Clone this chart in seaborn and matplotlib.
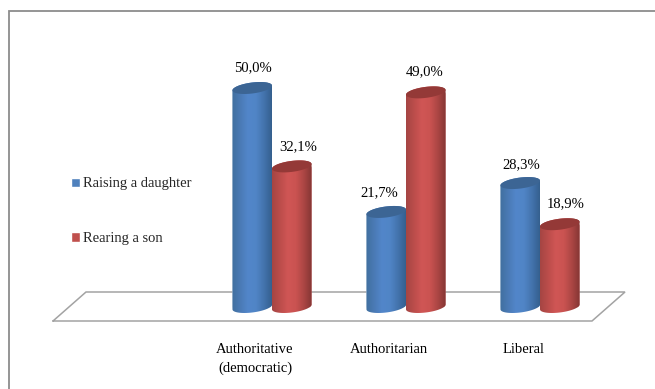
import numpy as np
import pandas as pd
import seaborn as sns
import matplotlib
matplotlib.use("Agg")
import matplotlib.pyplot as plt
from matplotlib.colors import LinearSegmentedColormap
from matplotlib.lines import Line2D
from matplotlib.patches import PathPatch
from matplotlib.path import Path
from matplotlib.transforms import ScaledTranslation

# Parenting style shares by child's gender
styles = ["Authoritative\n(democratic)", "Authoritarian", "Liberal"]
raising_daughter = [50.0, 21.7, 28.3]
rearing_son = [32.1, 49.0, 18.9]
series_names = ["Raising a daughter", "Rearing a son"]

W, H = 655, 389
FLOOR_FRONT = 321      # pixel row of the axes bottom
BASE_ROW = 307         # pixel row of the zero level
PX_PER_PCT = 4.38
FIRST_GROUP = 272
GROUP_STEP = 134
FONT = 10.5

sns.set_style("white")
plt.rcParams["font.family"] = ["Liberation Serif", "DejaVu Serif"]

fig = plt.figure(figsize=(W / 100, H / 100), dpi=100, facecolor="white")
ax = fig.add_axes([0, 1 - FLOOR_FRONT / H, 1, FLOOR_FRONT / H])

df = pd.DataFrame({
    "style": styles * 2,
    "share": raising_daughter + rearing_son,
    "series": [series_names[0]] * 3 + [series_names[1]] * 3,
})
palette = {series_names[0]: "#4F81BD", series_names[1]: "#C0504D"}
sns.barplot(data=df, x="style", y="share", hue="series", palette=palette,
            width=0.59, gap=0, saturation=1, ax=ax, zorder=3)

ax.set_xlabel("")
ax.set_ylabel("")
ax.set_yticks([])
sns.despine(ax=ax, left=True, bottom=True)
ax.patch.set_alpha(0)

# Category labels sit slightly left of their groups, as in a 3-D projection
ax.tick_params(axis="x", length=0, pad=16, labelsize=FONT, colors="black")
label_shift_px = [-17, -17, -16]
for lab, dx in zip(ax.get_xticklabels(), label_shift_px):
    lab.set_linespacing(1.5)
    lab.set_transform(lab.get_transform() + ScaledTranslation(dx / 100, 0, fig.dpi_scale_trans))

# Cylinder shading for each bar
ramps = {
    0: (["#41709F", "#4A7AB5", "#5286CA", "#5085C6", "#4474AE", "#35608F"], "#3C6594"),
    1: (["#A54543", "#BC4D4B", "#D05655", "#CA5351", "#AC4644", "#853634"], "#943937"),
}
half_h = 5.5 / PX_PER_PCT
shear = 0.12 * (GROUP_STEP / PX_PER_PCT)   # percent per category unit
theta_lower = np.linspace(np.pi, 2 * np.pi, 40)
theta_upper = np.linspace(0, np.pi, 40)
theta_full = np.linspace(0, 2 * np.pi, 80)


def ring(cx, level, a, theta):
    c, s = np.cos(theta), np.sin(theta)
    return np.column_stack([cx + a * c, level + half_h * s + shear * a * c])


top_to_label = [(1, 20), (-7, 19), (1, 18), (6, 20), (-1, 21), (6, 21)]
order = 0
for s_idx, container in enumerate(ax.containers):
    cmap = LinearSegmentedColormap.from_list(f"cyl{s_idx}", ramps[s_idx][0])
    cap_color = ramps[s_idx][1]
    for patch in container.patches:
        a = patch.get_width() / 2
        cx = patch.get_x() + a
        value = patch.get_height()
        z = 3 + order * 0.1

        # Body outline: lower half of the base, then back over the upper half of the top
        lower = ring(cx, 0, a, theta_lower)
        upper = ring(cx, value, a, theta_upper)
        pts = np.vstack([lower, upper, lower[:1]])
        body = PathPatch(Path(pts), transform=ax.transData, facecolor="none",
                         edgecolor="none", zorder=z)
        ax.add_patch(body)
        patch.set_clip_path(body)

        ymin, ymax = pts[:, 1].min(), pts[:, 1].max()
        img = ax.imshow(np.linspace(0, 1, 64)[None, :], cmap=cmap, aspect="auto",
                        extent=(cx - a, cx + a, ymin, ymax), zorder=z + 0.01,
                        interpolation="bilinear")
        img.set_clip_path(body)

        cap = ring(cx, value, a, theta_full)
        ax.fill(cap[:, 0], cap[:, 1], color=cap_color, lw=0, zorder=z + 0.02)

        dx, dy = top_to_label[order]
        ax.annotate(f"{value:.1f}%".replace(".", ","), (cx, value),
                    xytext=(dx * 0.72, dy * 0.72), textcoords="offset points",
                    ha="center", va="center", fontsize=FONT, color="black",
                    zorder=10)
        order += 1

ax.set_xlim(-FIRST_GROUP / GROUP_STEP, (W - FIRST_GROUP) / GROUP_STEP)
ax.set_ylim((BASE_ROW - FLOOR_FRONT) / PX_PER_PCT, BASE_ROW / PX_PER_PCT)

# Legend on the left side of the plot
leg = ax.legend(title=None, loc="upper left", bbox_to_anchor=(71 / W, 1 - 177.5 / FLOOR_FRONT),
                frameon=False, fontsize=FONT, borderpad=0, borderaxespad=0,
                handlelength=0.6, handleheight=0.6, handletextpad=0.2,
                labelspacing=2.85)


# Floor parallelogram and the outer frame, drawn in figure fractions
def fig_line(cols, rows, color, lw):
    xs = [c / W for c in cols]
    ys = [1 - r / H for r in rows]
    fig.add_artist(Line2D(xs, ys, color=color, lw=lw, transform=fig.transFigure,
                          zorder=0, solid_joinstyle="miter"))


floor_cols = [53, 86, 625, 592, 53]
floor_rows = [321, 292, 292, 321, 321]
frame_cols = [8.7, 8.7, 655]
frame_rows = [389, 10.7, 10.7]
ax.set_zorder(2)
fig_line(floor_cols, floor_rows, "#A3A3A3", 1.1)
fig_line(frame_cols, frame_rows, "#8C8C8C", 1.3)

fig.savefig("out.png", dpi=100, facecolor="white")
